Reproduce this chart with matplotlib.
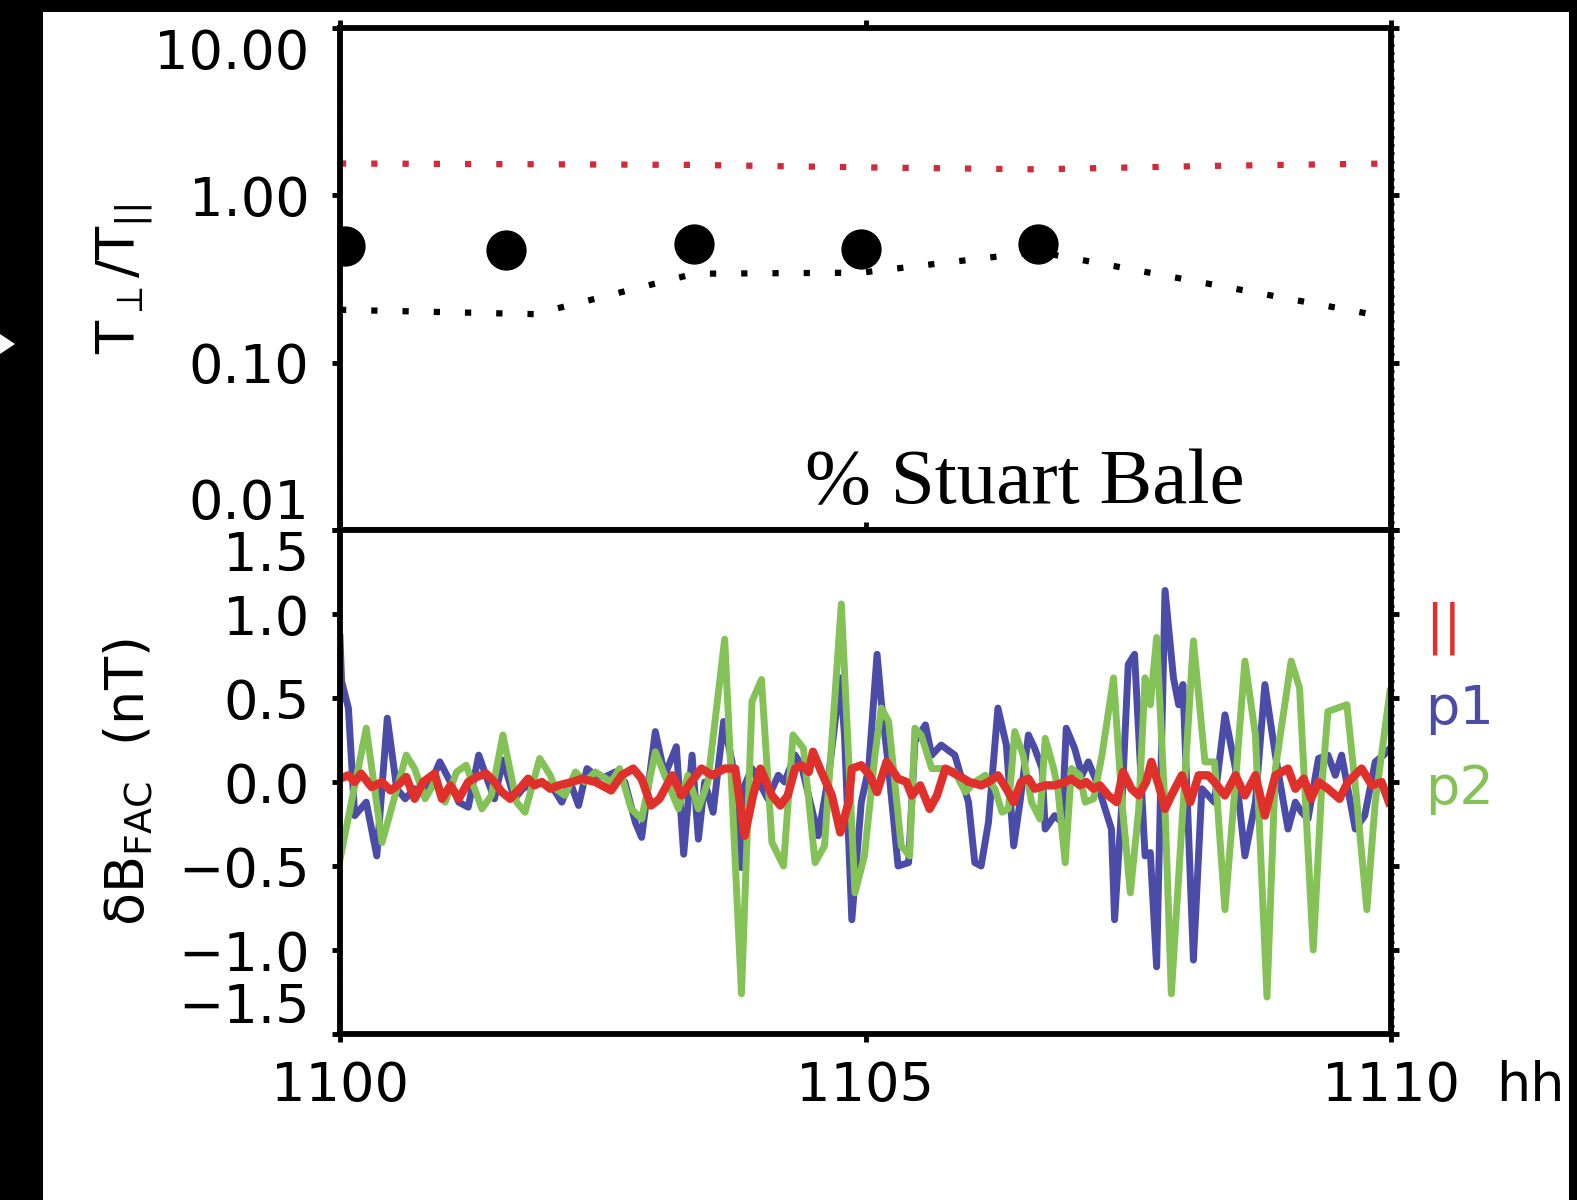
import numpy as np
import matplotlib
matplotlib.use('Agg')
import matplotlib.pyplot as plt
from matplotlib.patches import Rectangle, Polygon
from matplotlib.ticker import FixedLocator, MultipleLocator, NullLocator, NullFormatter

plt.rcParams['font.family'] = ['DejaVu Sans']
plt.rcParams['mathtext.fontset'] = 'dejavusans'

# tempo em minutos depois de 11:00
t_pontos = [0.05, 1.58, 3.37, 4.96, 6.64]
razao_pontos = [0.50, 0.47, 0.515, 0.48, 0.51]
t_limiar_inf = [0.0, 1.85, 3.37, 4.96, 6.64, 10.0]
razao_limiar_inf = [0.207, 0.195, 0.34, 0.345, 0.46, 0.185]
t_limiar_sup = [0.0, 3.37, 4.96, 6.64, 8.3, 10.0]
razao_limiar_sup = [1.55, 1.52, 1.47, 1.43, 1.50, 1.55]

# delta B em coordenadas alinhadas ao campo (nT)
t_p1 = [0.0, 0.015, 0.08, 0.14, 0.25, 0.35, 0.45, 0.54, 0.62, 0.71, 0.81, 0.95, 1.05, 1.13,
        1.22, 1.32, 1.41, 1.47, 1.55, 1.66, 1.74, 1.85, 2.01, 2.11, 2.19, 2.27, 2.35, 2.43,
        2.52, 2.62, 2.71, 2.81, 2.87, 3.00, 3.09, 3.20, 3.27, 3.35, 3.41, 3.47, 3.55, 3.65,
        3.73, 3.82, 3.85, 3.92, 4.07, 4.17, 4.23, 4.33, 4.39, 4.55, 4.65, 4.76, 4.80, 4.87,
        4.96, 5.03, 5.11, 5.15, 5.22, 5.31, 5.41, 5.47, 5.57, 5.63, 5.72, 5.85, 5.98, 6.04,
        6.10, 6.17, 6.26, 6.34, 6.41, 6.47, 6.55, 6.61, 6.68, 6.71, 6.80, 6.87, 6.91, 6.99,
        7.06, 7.12, 7.20, 7.28, 7.34, 7.37, 7.44, 7.50, 7.56, 7.66, 7.71, 7.77, 7.85, 7.93,
        7.98, 8.02, 8.12, 8.20, 8.32, 8.42, 8.52, 8.61, 8.71, 8.80, 8.90, 9.02, 9.09, 9.15,
        9.21, 9.31, 9.40, 9.47, 9.53, 9.66, 9.75, 9.85, 9.93, 9.99]
b_p1 = [0.86, 0.60, 0.44, -0.20, -0.12, -0.44, 0.38, -0.04, -0.10, -0.04, -0.08, 0.12, 0.0, -0.12,
        -0.15, 0.16, 0.0, -0.10, 0.13, -0.10, -0.04, 0.0, -0.02, -0.12, 0.0, -0.14, 0.08, 0.04,
        0.03, 0.06, 0.0, -0.24, -0.33, 0.30, 0.04, 0.21, -0.43, 0.16, -0.34, 0.0, -0.18, 0.36,
        0.12, -0.51, -0.02, 0.08, -0.10, 0.04, 0.0, 0.16, 0.10, -0.32, 0.04, 0.62, 0.28, -0.82,
        -0.12, 0.08, 0.76, 0.48, 0.08, -0.50, -0.48, 0.24, 0.34, 0.16, 0.22, 0.16, -0.12, -0.48,
        -0.50, -0.24, 0.44, 0.22, -0.38, -0.12, 0.28, 0.20, 0.08, -0.28, -0.20, -0.24, 0.32, 0.20,
        0.04, 0.12, 0.0, -0.16, -0.28, -0.82, -0.12, 0.70, 0.76, -0.44, -0.42, -1.10, 1.14, 0.62,
        0.46, 0.58, -1.06, -0.04, -0.12, 0.40, 0.08, -0.44, -0.12, 0.58, 0.16, -0.28, -0.12, -0.18,
        -0.22, 0.14, 0.16, 0.04, 0.16, -0.28, -0.20, 0.12, 0.16, 0.20]

t_p2 = [0.0, 0.25, 0.40, 0.63, 0.71, 0.81, 0.90, 1.00, 1.11, 1.20, 1.35, 1.44, 1.55, 1.68,
        1.76, 1.90, 2.00, 2.05, 2.14, 2.24, 2.33, 2.43, 2.58, 2.66, 2.77, 2.87, 3.00, 3.09,
        3.22, 3.31, 3.41, 3.50, 3.66, 3.82, 3.92, 4.01, 4.11, 4.22, 4.31, 4.41, 4.52, 4.61,
        4.77, 4.90, 4.99, 5.09, 5.15, 5.22, 5.34, 5.42, 5.47, 5.53, 5.63, 5.77, 5.85, 5.95,
        6.04, 6.14, 6.23, 6.30, 6.36, 6.42, 6.50, 6.58, 6.66, 6.71, 6.79, 6.83, 6.90, 6.96,
        7.04, 7.09, 7.17, 7.25, 7.36, 7.44, 7.52, 7.60, 7.66, 7.71, 7.77, 7.85, 7.91, 8.12,
        8.23, 8.32, 8.42, 8.52, 8.61, 8.71, 8.82, 8.90, 9.05, 9.13, 9.26, 9.34, 9.40, 9.58,
        9.67, 9.77, 9.85, 9.99]
b_p2 = [-0.46, 0.32, -0.36, 0.16, 0.08, -0.10, 0.0, -0.12, 0.06, 0.10, -0.16, -0.08, 0.28, -0.12,
        -0.18, 0.14, 0.04, -0.04, -0.08, 0.06, 0.0, 0.06, 0.0, 0.08, -0.16, -0.22, 0.18, 0.04,
        -0.16, 0.04, -0.16, 0.0, 0.85, -1.26, 0.48, 0.61, -0.36, -0.50, 0.28, 0.20, -0.48, -0.38,
        1.06, -0.66, -0.44, 0.16, 0.44, 0.36, -0.38, -0.44, 0.32, 0.28, 0.08, 0.08, 0.06, -0.06,
        0.0, 0.04, -0.04, -0.18, -0.16, 0.30, 0.16, -0.12, -0.22, 0.26, 0.08, -0.04, -0.48, 0.08,
        0.04, -0.12, -0.10, 0.16, 0.62, -0.12, -0.66, -0.16, 0.62, 0.46, 0.86, -0.16, -1.26, 0.84,
        0.12, 0.12, -0.76, 0.0, 0.72, 0.28, -1.28, 0.08, 0.72, 0.56, -1.0, -0.04, 0.42, 0.46,
        -0.08, -0.76, -0.12, 0.54]

t_par = [0.0, 0.08, 0.14, 0.20, 0.30, 0.40, 0.48, 0.55, 0.63, 0.71, 0.79, 0.90, 0.97, 1.05,
         1.13, 1.22, 1.30, 1.39, 1.47, 1.54, 1.62, 1.71, 1.79, 1.85, 1.92, 2.00, 2.08, 2.21,
         2.30, 2.43, 2.58, 2.68, 2.79, 2.87, 2.96, 3.04, 3.16, 3.25, 3.34, 3.44, 3.54, 3.66,
         3.76, 3.85, 3.93, 4.00, 4.11, 4.19, 4.26, 4.33, 4.39, 4.46, 4.50, 4.58, 4.68, 4.76,
         4.84, 4.87, 4.96, 5.04, 5.11, 5.20, 5.31, 5.39, 5.44, 5.52, 5.61, 5.68, 5.76, 5.88,
         5.99, 6.10, 6.17, 6.26, 6.34, 6.41, 6.48, 6.55, 6.61, 6.71, 6.80, 6.90, 6.96, 7.04,
         7.10, 7.17, 7.23, 7.31, 7.39, 7.45, 7.53, 7.60, 7.67, 7.72, 7.79, 7.85, 7.91, 8.01,
         8.09, 8.17, 8.26, 8.32, 8.42, 8.52, 8.61, 8.71, 8.80, 8.90, 9.02, 9.09, 9.17, 9.24,
         9.31, 9.40, 9.51, 9.59, 9.72, 9.82, 9.91, 9.98]
b_par = [0.02, 0.04, 0.0, 0.05, -0.03, 0.0, -0.05, -0.02, 0.03, -0.10, 0.0, 0.05, -0.10, -0.02,
         -0.10, 0.0, 0.03, 0.05, 0.0, -0.06, -0.10, -0.04, 0.02, -0.02, 0.0, -0.04, -0.02, 0.0,
         0.02, 0.0, -0.05, 0.04, 0.08, 0.02, -0.14, -0.10, 0.04, -0.08, 0.0, 0.08, 0.04, 0.08,
         0.08, -0.32, -0.08, 0.08, -0.08, -0.14, -0.08, 0.08, 0.10, 0.06, 0.18, 0.06, -0.08, -0.30,
         -0.12, 0.08, 0.10, 0.04, -0.06, 0.12, 0.02, 0.0, -0.08, -0.02, -0.16, -0.08, 0.08, 0.04,
         0.0, -0.02, 0.0, 0.04, -0.04, -0.12, 0.0, 0.02, -0.04, -0.02, -0.02, 0.0, 0.02, -0.02,
         0.0, -0.04, -0.02, -0.08, -0.12, 0.06, -0.04, -0.08, 0.0, 0.12, -0.02, -0.16, -0.08, 0.04,
         -0.12, 0.04, 0.04, 0.0, -0.08, 0.04, -0.08, 0.04, -0.20, 0.04, 0.08, -0.04, 0.02, -0.10,
         0.0, -0.04, -0.10, 0.0, 0.08, -0.02, 0.0, -0.12]

rotulos_y1 = ['0.01', '0.10', '1.00', '10.00']
ticks_y1 = [0.01, 0.1, 1.0, 10.0]
ticks_y2 = [-1.5, -1.0, -0.5, 0.0, 0.5, 1.0, 1.5]
rotulos_x = ['1100', '1105', '1110']

vermelho = '#e0302c'
azul = '#4b4ba8'
verde = '#84c257'

W, H = 1577, 1200
fig = plt.figure(figsize=(W / 100, H / 100), dpi=100, facecolor='black')

# fundo branco com bordas pretas, e a setinha branca na borda esquerda
fig.patches.append(Rectangle((43 / W, 0), (1569 - 43) / W, (H - 12) / H,
                             transform=fig.transFigure, facecolor='white', edgecolor='none', zorder=-5))
fig.patches.append(Polygon([(0, 1 - 334 / H), (15 / W, 1 - 344 / H), (0, 1 - 354 / H)],
                           closed=True, transform=fig.transFigure, facecolor='white', edgecolor='none'))

esq, larg = 340 / W, 1051 / W
ax1 = fig.add_axes([esq, 1 - 530 / H, larg, 502 / H])
ax2 = fig.add_axes([esq, 1 - 1034 / H, larg, 504 / H])

fs = 39

# painel de cima: anisotropia de temperatura
ax1.set_yscale('log')
ax1.plot(t_limiar_sup, razao_limiar_sup, color='#d02a3c', lw=4.5, linestyle=(0, (1, 4)))
ax1.plot(t_limiar_inf, razao_limiar_inf, color='black', lw=4.5, linestyle=(0, (1, 4)))
ax1.plot(t_pontos, razao_pontos, 'o', color='black', markersize=28, linestyle='none')
ax1.set_ylim(0.01, 10)
ax1.set_yticks(ticks_y1)
ax1.set_yticklabels(rotulos_y1)
ax1.yaxis.set_minor_locator(FixedLocator(10 ** np.arange(-2, 1.001, 0.05)))
ax1.yaxis.set_minor_formatter(NullFormatter())
ax1.set_ylabel(r'T$_\perp$/T$_\mathregular{||}$', fontsize=fs)
ax1.text(0.442, 0.054, '% Stuart Bale', transform=ax1.transAxes, fontsize=57,
         family='Liberation Serif', va='baseline', ha='left')

# painel de baixo: flutuações do campo
ax2.plot(t_p1, b_p1, color=azul, lw=5)
ax2.plot(t_p2, b_p2, color=verde, lw=5)
ax2.plot(t_par, b_par, color=vermelho, lw=6)
ax2.set_ylim(-1.5, 1.5)
ax2.set_yticks(ticks_y2)
ax2.set_yticklabels(['\u22121.5', '\u22121.0', '\u22120.5', '0.0', '0.5', '1.0', '1.5'])
ax2.yaxis.set_minor_locator(MultipleLocator(0.05))
ax2.yaxis.set_minor_formatter(NullFormatter())
ax2.set_ylabel('\u03b4B$_\\mathregular{FAC}$  (nT)', fontsize=fs)
ax2.text(1.032, 0.806, '||', transform=ax2.transAxes, color=vermelho, fontsize=fs, va='center', ha='left')
ax2.text(1.032, 0.645, 'p1', transform=ax2.transAxes, color=azul, fontsize=fs, va='center', ha='left')
ax2.text(1.032, 0.486, 'p2', transform=ax2.transAxes, color=verde, fontsize=fs, va='center', ha='left')

for ax in (ax1, ax2):
    ax.set_xlim(0, 10)
    ax.set_xticks([0, 5, 10])
    ax.xaxis.set_minor_locator(NullLocator())
    for s in ax.spines.values():
        s.set_linewidth(4.2)
    ax.tick_params(axis='y', which='major', direction='out', length=6, width=3.5,
                   left=True, right=True, labelsize=fs, pad=16)
    ax.tick_params(axis='y', which='minor', direction='out', length=2.5, width=2,
                   left=True, right=True)
    ax.tick_params(axis='x', which='major', direction='out', length=6, width=3.5,
                   top=True, bottom=True, labelsize=fs, pad=13)
    ax.yaxis.set_label_coords(-0.175, 0.5)

ax1.tick_params(axis='x', labelbottom=False)
ax2.set_xticklabels(rotulos_x)
ax2.text(1.10, -0.052, 'hh', transform=ax2.transAxes, fontsize=fs, va='top', ha='left')

# rótulos das pontas puxados para dentro, como no original
for ax in (ax1, ax2):
    labs = ax.get_yticklabels()
    labs[0].set_verticalalignment('bottom')
    labs[-1].set_verticalalignment('top')

fig.savefig('out.png', dpi=100, facecolor=fig.get_facecolor())
